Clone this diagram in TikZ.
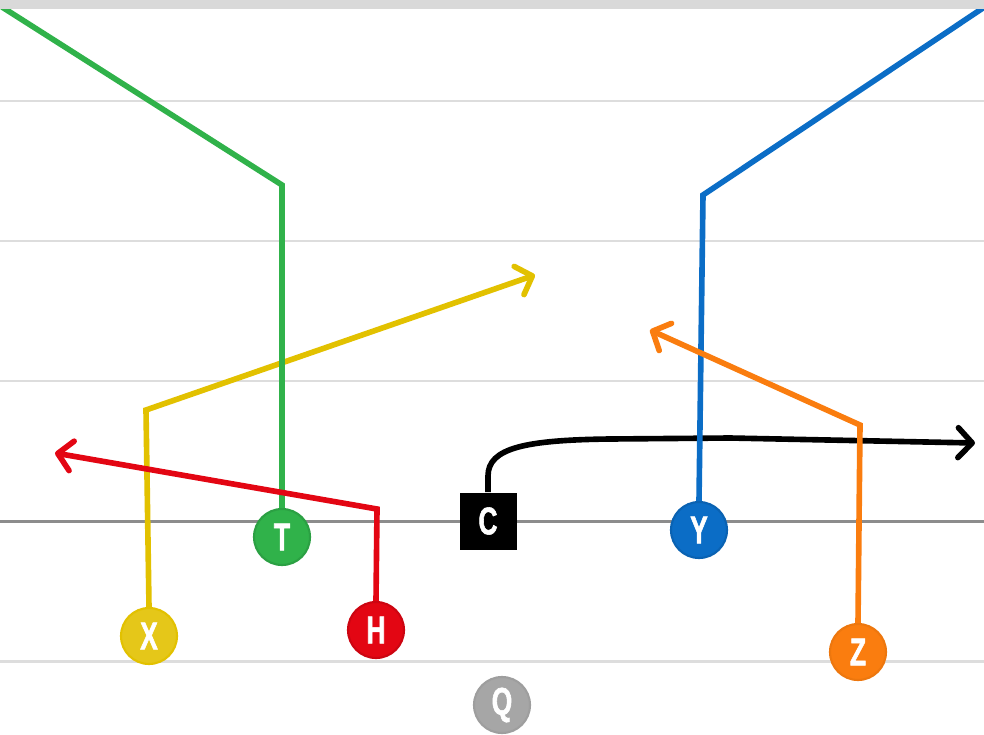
\documentclass[tikz,border=0pt]{standalone}
\usepackage{fontspec}
\usepackage{tikz}
\usetikzlibrary{arrows,arrows.meta}
\usetikzlibrary{calc,shapes}
\newfontfamily\playerfont[FakeStretch=0.68, FakeBold=1.5]{Liberation Sans Bold}
\definecolor{fieldgray}{HTML}{DDDDDD}
\definecolor{losgray}{HTML}{8C8C8C}
\definecolor{topgray}{HTML}{D9D9D9}
\definecolor{tgreen}{HTML}{30B24A}
\definecolor{xyellow}{HTML}{E2C100}
\definecolor{hred}{HTML}{E30613}
\definecolor{yblue}{HTML}{0B6DC6}
\definecolor{zorange}{HTML}{FA7D0F}
\definecolor{qgray}{HTML}{A6A6A6}
\tikzset{>=latex}
\tikzstyle{yardline} = [line width = 1.7, color = fieldgray]
\tikzstyle{route} = [%
					line width = 3.2,
					line join = miter,
					-{Straight Barb[length=8pt, width=17pt, round]}
					]
\tikzstyle{player} = [circle, minimum size = 1.12cm, inner sep = 0, line width = 1.2,
					text = white, font = \playerfont\fontsize{22}{22}\selectfont]

\begin{document}
\begin{tikzpicture}[x=0.02cm, y=-0.02cm]
    % one unit = one pixel of the play card, y running down
    \useasboundingbox (0,0) rectangle (984,734);

    % Field parameters
    \def\fieldwidth {984}              % width of the card
    \def\los        {521}              % line of scrimmage

    % Draw the yard lines
    \foreach \y in {101, 241, 381, 661} {
       \draw[yardline] (0,\y) -- (\fieldwidth,\y);
    }
    \draw[line width = 1.7, losgray] (0,\los) -- (\fieldwidth,\los);

    % Draw the players
    \node[player, fill=tgreen, draw=tgreen!90!black] (T) at (282,537) {T};
    \node[player, fill=xyellow!90!white, draw=xyellow] (X) at (149,636) {X};
    \node[player, fill=hred, draw=hred!90!black] (H) at (376,630) {H};
    \node[player, fill=yblue, draw=yblue!90!black] (Y) at (699,530) {Y};
    \node[player, fill=zorange, draw=zorange!95!black] (Z) at (858,652) {Z};
    \node[player, fill=qgray, draw=qgray!95!black] (Q) at (502,705) {Q};
    \node[rectangle, fill=black, minimum size=1.14cm, inner sep=0, text=white,
          font=\playerfont\fontsize{22}{22}\selectfont] (C) at (488,521) {C};

    % break points of the routes
    \coordinate (Tcut) at (282,185);   \coordinate (Tend) at (2,7);
    \coordinate (Xcut) at (146,410);   \coordinate (Xend) at (535,275);
    \coordinate (Hcut) at (377,509);   \coordinate (Hend) at (55,453);
    \coordinate (Ycut) at (703,195);   \coordinate (Yend) at (986,6);
    \coordinate (Zcut) at (860,425);   \coordinate (Zend) at (650,330);
    \coordinate (Cend) at (975,443);

    % Draw the routes (order gives the crossings)
    \draw[route, black] (C.north) -- (488,476) .. controls (488,448) and (525,440) .. (610,439)
          -- (730,438) -- (Cend);
    \draw[route, xyellow] (X.north) -- (Xcut) -- (Xend);
    \draw[route, tgreen, -] (T.north) -- (Tcut) -- (Tend);
    \draw[route, hred] (H.north) -- (Hcut) -- (Hend);
    \draw[route, yblue, -] (Y.north) -- (Ycut) -- (Yend);
    \draw[route, zorange] (Z.north) -- (Zcut) -- (Zend);

    % top edge of the card
    \fill[topgray] (0,0) rectangle (\fieldwidth,9);
\end{tikzpicture}
\end{document}
